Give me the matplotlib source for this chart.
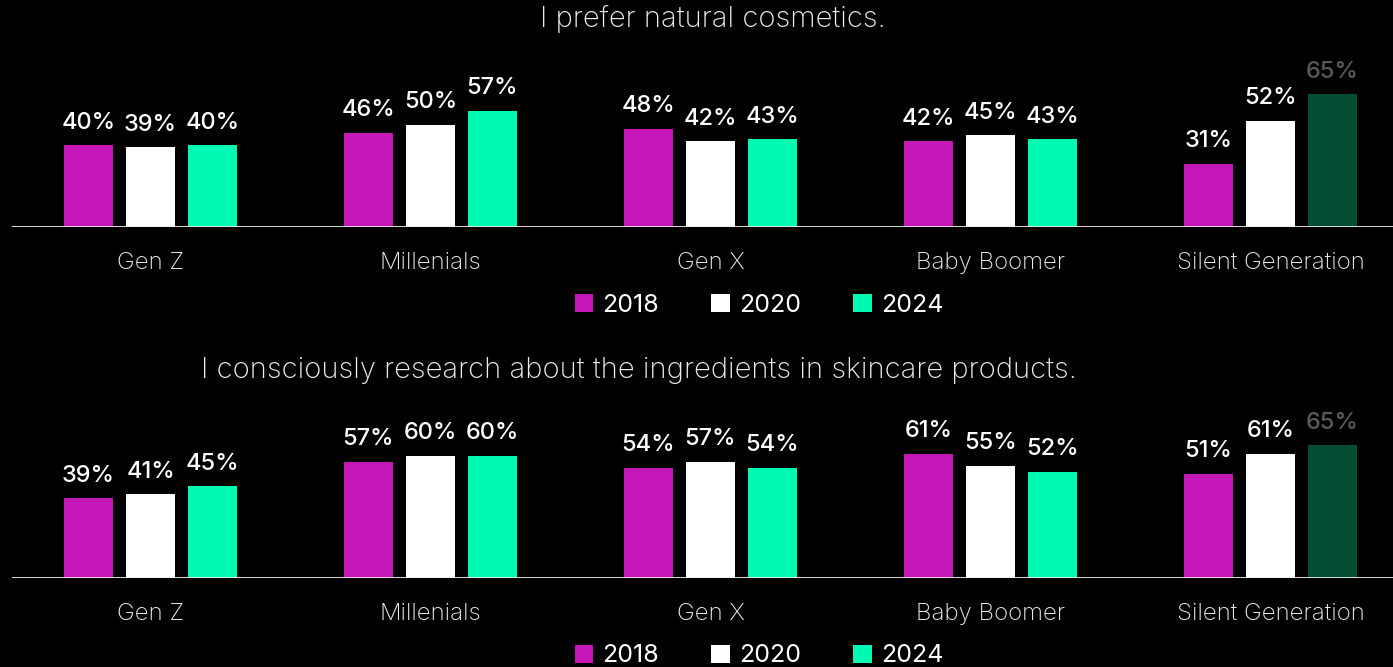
import numpy as np
import matplotlib.pyplot as plt
from matplotlib.patches import Patch

plt.rcParams["font.family"] = ["Inter", "DejaVu Sans"]

generations = ["Gen Z", "Millenials", "Gen X", "Baby Boomer", "Silent Generation"]
years = ["2018", "2020", "2024"]

natural_2018 = [40, 46, 48, 42, 31]
natural_2020 = [39, 50, 42, 45, 52]
natural_2024 = [40, 57, 43, 43, 65]

research_2018 = [39, 57, 54, 61, 51]
research_2020 = [41, 60, 57, 55, 61]
research_2024 = [45, 60, 54, 52, 65]

title_natural = "I prefer natural cosmetics."
title_research = "I consciously research about the ingredients in skincare products."

MAGENTA = "#C417B8"
WHITE = "#FFFFFF"
MINT = "#00F9B3"
DARK_GREEN = "#044D33"
DIM_LABEL = "#5A5A5A"
TEXT = "#EDEDED"
year_colors = [MAGENTA, WHITE, MINT]

W, H = 1393, 667
fig = plt.figure(figsize=(W / 100, H / 100), dpi=100, facecolor="black")

# px -> figure fraction helpers
def fx(px):
    return px / W

def fy(py):
    return 1 - py / H

px_per_unit = 280.0
x_left = -(150.5 - 12) / px_per_unit
x_right = (1393 - 150.5) / px_per_unit
offset = 62 / px_per_unit
width = 49 / px_per_unit
px_per_pct = 2.04
ymax = 100


def draw_panel(baseline_px, title, title_x, series):
    ax = fig.add_axes([fx(12), fy(baseline_px), fx(1393 - 12), ymax * px_per_pct / H])
    ax.set_facecolor("black")
    x = np.arange(len(generations))
    for i, vals in enumerate(series):
        colors = [year_colors[i]] * len(vals)
        label_colors = ["white"] * len(vals)
        if i == 2:
            # last group's 2024 bar is shown muted
            colors[-1] = DARK_GREEN
            label_colors[-1] = DIM_LABEL
        bars = ax.bar(x + (i - 1) * offset, vals, width, color=colors, zorder=2)
        for b, v, lc in zip(bars, vals, label_colors):
            ax.annotate(f"{v}%", (b.get_x() + b.get_width() / 2, v),
                        xytext=(0, 12), textcoords="offset points",
                        ha="center", va="baseline", color=lc,
                        fontsize=17, fontweight="medium")
    ax.axhline(0, color="#EEEEEE", lw=2.0, zorder=3)
    ax.set_xlim(x_left, x_right)
    ax.set_ylim(0, ymax)
    ax.axis("off")

    for xi, name in zip(x, generations):
        fig.text(fx(150.5 + xi * px_per_unit), fy(baseline_px + 36), name,
                 ha="center", va="center", color=TEXT,
                 fontsize=17.3, fontweight="light")

    fig.text(fx(title_x), fy(baseline_px - 208), title, ha="center", va="center",
             color=TEXT, fontsize=21, fontweight="light")

    handles = [Patch(facecolor=c, edgecolor="none") for c in year_colors]
    fig.legend(handles, years, loc="center", ncol=3,
               bbox_to_anchor=(fx(759), fy(baseline_px + 78)),
               frameon=False, fontsize=18, labelcolor="white",
               handlelength=0.75, handleheight=0.75, handletextpad=0.35,
               columnspacing=2.1)


draw_panel(227, title_natural, 713, [natural_2018, natural_2020, natural_2024])
draw_panel(578, title_research, 639, [research_2018, research_2020, research_2024])

fig.savefig("out.png", dpi=100, facecolor="black")
